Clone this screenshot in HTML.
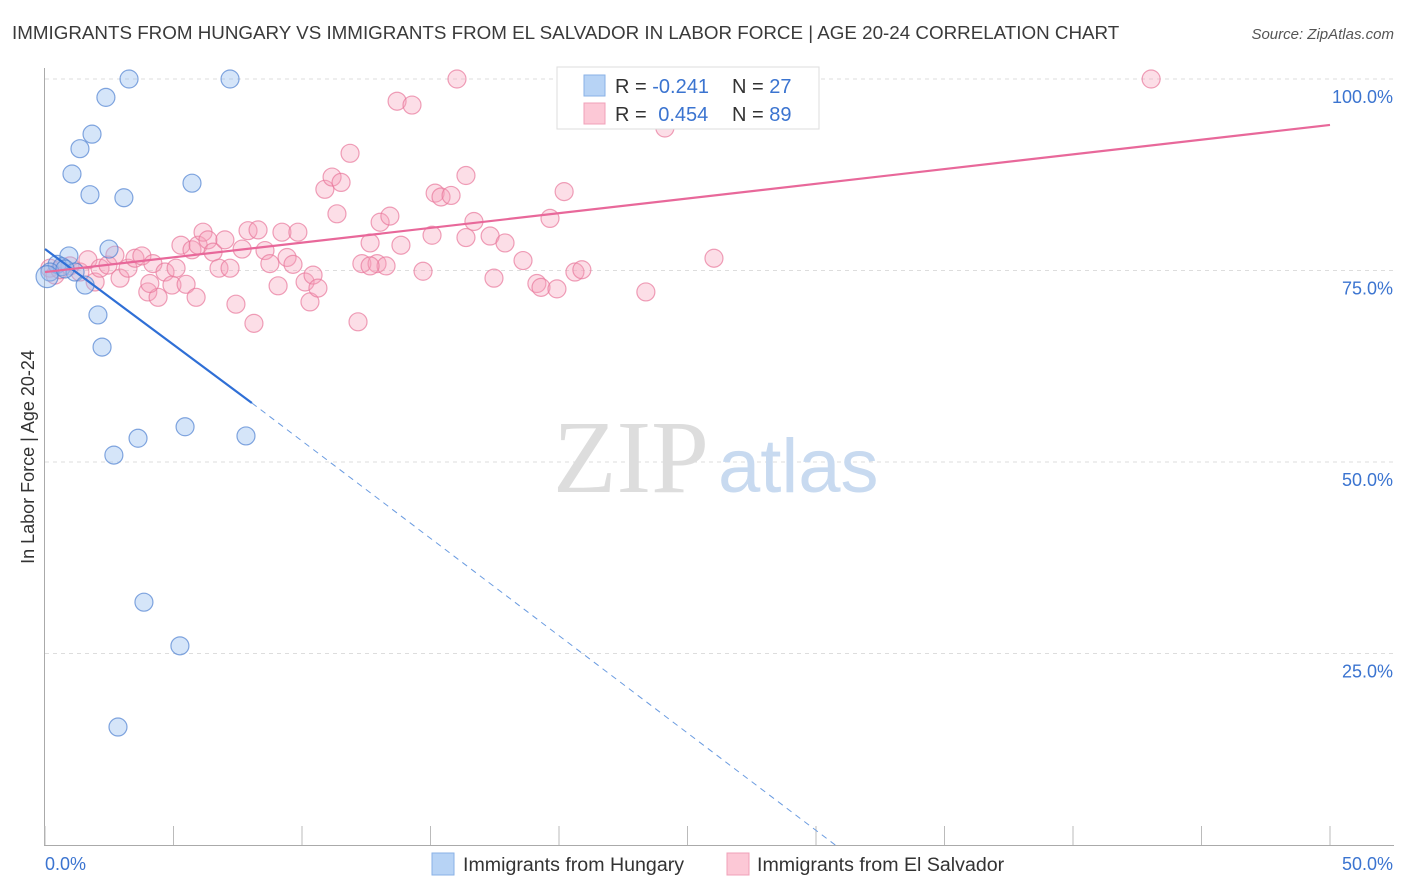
<!DOCTYPE html>
<html><head><meta charset="utf-8">
<style>
body{margin:0;background:#fff;font-family:"Liberation Sans",sans-serif;}
svg{display:block}
</style></head>
<body>
<svg id="chart" width="1406" height="892" viewBox="0 0 1406 892" xmlns="http://www.w3.org/2000/svg">
<text x="12" y="39" font-size="18.8" fill="#3a3a3a">IMMIGRANTS FROM HUNGARY VS IMMIGRANTS FROM EL SALVADOR IN LABOR FORCE | AGE 20-24 CORRELATION CHART</text>
<text x="1394" y="39" font-size="15" fill="#555" font-style="italic" text-anchor="end">Source: ZipAtlas.com</text>
<g id="grid"></g>
<g>
<text x="553" y="492" font-size="104" fill="#ddd" font-family="Liberation Serif,serif">ZIP</text>
<text x="718" y="492" font-size="76" fill="#c8daf0">atlas</text>
</g>
<g id="axes"></g>
<g id="pinkpts"></g>
<g id="bluepts"></g>
<g id="lines"></g>
<text transform="translate(34,457) rotate(-90)" font-size="18" fill="#333" text-anchor="middle">In Labor Force | Age 20-24</text>
<g>
<rect x="557" y="67" width="262" height="62" fill="#fff" stroke="#ddd"/>
<rect x="584" y="75" width="21" height="21" fill="#b7d3f5" stroke="#8ab2e6"/>
<rect x="584" y="103" width="21" height="21" fill="#fcc8d6" stroke="#f0a0b8"/>
<text x="615" y="93" font-size="20" fill="#333">R = <tspan fill="#3b74d0">-0.241</tspan></text>
<text x="732" y="93" font-size="20" fill="#333">N = <tspan fill="#3b74d0">27</tspan></text>
<text x="615" y="121" font-size="20" fill="#333">R = <tspan fill="#3b74d0" dx="6">0.454</tspan></text>
<text x="732" y="121" font-size="20" fill="#333">N = <tspan fill="#3b74d0">89</tspan></text>
</g>
<g>
<rect x="432" y="853" width="22" height="22" fill="#b7d3f5" stroke="#8ab2e6"/>
<text x="463" y="871" font-size="19.6" fill="#333">Immigrants from Hungary</text>
<rect x="727" y="853" width="22" height="22" fill="#fcc8d6" stroke="#f0a0b8"/>
<text x="757" y="871" font-size="19.6" fill="#333">Immigrants from El Salvador</text>
</g>
</svg>
<script>
const yTicks=[25,50,75,100];
const yTickLabels=["25.0%","50.0%","75.0%","100.0%"];
const xTicks=[0,5,10,15,20,25,30,35,40,45,50];
const xEndLabels=["0.0%","50.0%"];
const hungaryX=[3.27,7.2,2.37,1.83,1.36,1.05,1.75,3.07,5.72,2.49,0.93,0.47,0.66,0.19,1.17,1.56,2.06,2.22,3.62,5.45,7.82,2.68,3.85,5.25,2.84,0.08,0.78];
const hungaryY=[100,100,97.6,92.8,90.9,87.6,84.9,84.5,86.4,77.8,76.9,75.8,75.5,74.8,74.8,73.1,69.2,65,53.1,54.6,53.4,50.9,31.7,26,15.4,74.2,75.2];
const salvadorX=[0.19,0.39,0.58,0.97,1.36,1.67,1.95,2.14,2.45,2.72,2.92,3.23,3.5,3.77,4.0,4.2,4.4,4.67,4.94,5.1,5.29,5.49,5.72,5.96,6.15,6.34,6.54,6.77,7.0,7.2,7.43,7.67,7.9,8.13,8.29,8.56,8.75,9.07,9.22,9.42,9.65,9.84,10.12,10.31,10.43,10.62,10.89,11.17,11.36,11.52,11.87,12.18,12.33,12.65,12.92,13.04,13.27,13.42,13.7,13.85,14.28,14.71,15.06,15.18,15.41,15.8,16.03,16.38,16.38,16.69,17.32,17.47,17.9,18.6,19.14,19.3,19.65,19.92,20.2,20.62,20.89,23.38,24.12,26.03,43.04,12.65,4.08,5.88];
const salvadorY=[75.3,74.4,75.1,75.6,74.8,76.4,73.5,75.3,75.7,77,74,75.3,76.6,76.9,72.2,75.9,71.5,74.8,73.1,75.3,78.3,73.2,77.7,78.3,80,79,77.4,75.3,79,75.3,70.6,77.8,80.2,68.1,80.3,77.6,75.9,73,80,76.7,75.8,80,73.5,70.9,74.4,72.7,85.6,87.2,82.4,86.5,90.3,68.3,75.9,78.6,75.9,81.3,75.6,82.1,97.1,78.3,96.6,74.9,79.6,85.1,84.6,84.8,100,79.3,87.4,81.4,79.5,74,78.6,76.3,73.3,72.8,81.8,72.6,85.3,74.8,75.1,72.2,93.6,76.6,100,75.6,73.3,71.5];
const hungaryLine=[[0,77.8],[8.05,57.7]];
const hungaryDash=[[8.05,57.7],[30.75,0]];
const salvadorLine=[[0,74.8],[50,94]];
const NS="http://www.w3.org/2000/svg";
const X=v=>45+v*25.7, Y=v=>845-v*7.66;
function mk(t,a,p){const e=document.createElementNS(NS,t);for(const k in a)e.setAttribute(k,a[k]);p.appendChild(e);return e;}
const grid=document.getElementById('grid'),axes=document.getElementById('axes');
yTicks.forEach((t,i)=>{
 const l=mk('line',{x1:45,x2:1394,y1:Y(t),y2:Y(t),stroke:'#ddd','stroke-dasharray':'4,4'},grid);
 
 
 const tx=mk('text',{x:1393,y:Y(t)+24,'font-size':18,fill:'#3b74d0','text-anchor':'end'},axes);
 tx.textContent=yTickLabels[i];
 
 
});
mk('line',{x1:44.5,x2:44.5,y1:68,y2:845,stroke:'#aaa'},axes);
mk('line',{x1:44,x2:1394,y1:845.5,y2:845.5,stroke:'#aaa'},axes);
xTicks.forEach(t=>{
 const l=mk('line',{x1:X(t),x2:X(t),y1:826,y2:845,stroke:'#bbb'},axes);
 
 
});
const xl0=mk('text',{x:45,y:870,'font-size':18,fill:'#3b74d0'},axes);xl0.textContent=xEndLabels[0];


const xl1=mk('text',{x:1393,y:870,'font-size':18,fill:'#3b74d0','text-anchor':'end'},axes);xl1.textContent=xEndLabels[1];


const pg=document.getElementById('pinkpts');
salvadorX.forEach((x,i)=>{
 const c=mk('circle',{cx:X(x),cy:Y(salvadorY[i]),r:9,fill:'rgba(246,160,186,0.35)',stroke:'rgba(232,120,155,0.7)','stroke-width':1.2},pg);
 
 
});
const bg=document.getElementById('bluepts');
hungaryX.forEach((x,i)=>{
 const c=mk('circle',{cx:X(x),cy:Y(hungaryY[i]),r:i==25?11:9,fill:'rgba(150,190,240,0.4)',stroke:'rgba(80,130,210,0.7)','stroke-width':1.2},bg);
 
 
});
const lg=document.getElementById('lines');
const l1=mk('line',{x1:X(hungaryLine[0][0]),y1:Y(hungaryLine[0][1]),x2:X(hungaryLine[1][0]),y2:Y(hungaryLine[1][1]),stroke:'#2f6fd6','stroke-width':2.2},lg);


const l2=mk('line',{x1:X(hungaryDash[0][0]),y1:Y(hungaryDash[0][1]),x2:X(hungaryDash[1][0]),y2:Y(hungaryDash[1][1]),stroke:'#6a9be0','stroke-width':1,'stroke-dasharray':'6,5'},lg);


const l3=mk('line',{x1:X(salvadorLine[0][0]),y1:Y(salvadorLine[0][1]),x2:X(salvadorLine[1][0]),y2:Y(salvadorLine[1][1]),stroke:'#e8689a','stroke-width':2.2},lg);


</script>
</body></html>
